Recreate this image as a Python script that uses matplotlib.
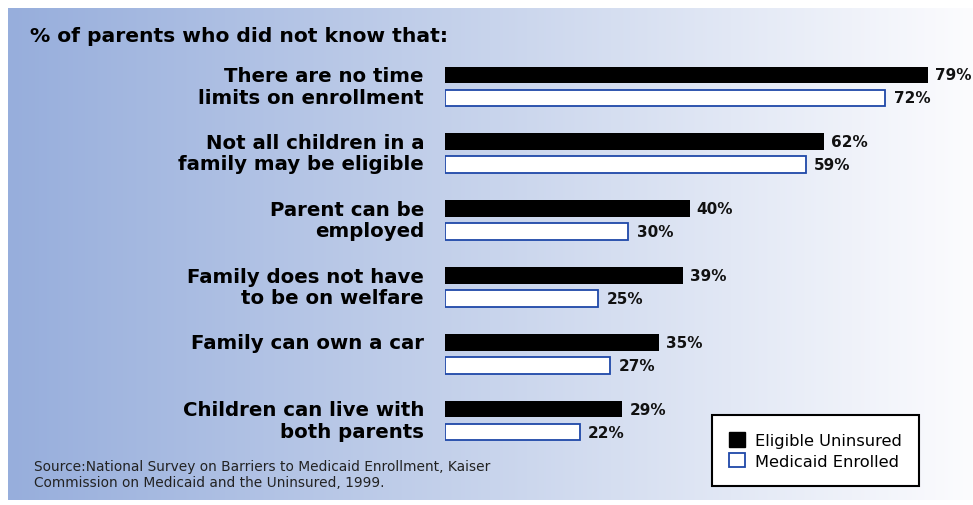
import numpy as np
import matplotlib.pyplot as plt
from matplotlib.patches import Patch

# data
labels = ["There are no time\nlimits on enrollment",
          "Not all children in a\nfamily may be eligible",
          "Parent can be\nemployed",
          "Family does not have\nto be on welfare",
          "Family can own a car",
          "Children can live with\nboth parents"]
eligible = [79, 62, 40, 39, 35, 29]
enrolled = [72, 59, 30, 25, 27, 22]

W, H = 973, 506
fig = plt.figure(figsize=(W / 100, H / 100), dpi=100)
fig.patch.set_facecolor("white")

# gradient backdrop
bg = fig.add_axes([8 / W, (H - 501) / H, (W - 8) / W, 492 / H])
c_left = np.array([151, 174, 220]) / 255
c_mid = np.array([200, 212, 236]) / 255
c_right = np.array([252, 252, 254]) / 255
t = np.linspace(0, 1, 400)
grad = np.where(t[:, None] < 0.5,
                c_left + (c_mid - c_left) * (t[:, None] / 0.5),
                c_mid + (c_right - c_mid) * ((t[:, None] - 0.5) / 0.5))
bg.imshow(grad[None, :, :], aspect="auto", extent=[0, 1, 0, 1])
bg.axis("off")

# bar axes: 0% at x=445 px, ~6.11 px per percent
px = 6.114
ax = fig.add_axes([445 / W, (H - 455) / H, 86 * px / W, 401 / H])
ax.patch.set_alpha(0)
y = np.arange(len(labels))
off, h = 0.172, 0.25
ax.barh(y - off, eligible, height=h, color="black", label="Eligible Uninsured")
ax.barh(y + off, enrolled, height=h, color="white", edgecolor="#1f48a8",
        linewidth=1.3, label="Medicaid Enrolled")
ax.set_xlim(0, 86)
ax.set_ylim(5.5, -0.5)
ax.axis("off")

for i in range(len(labels)):
    ax.text(eligible[i] + 1.15, y[i] - off, f"{eligible[i]}%", va="center",
            ha="left", fontsize=11, fontweight="bold", color="#111")
    ax.text(enrolled[i] + 1.4, y[i] + off, f"{enrolled[i]}%", va="center",
            ha="left", fontsize=11, fontweight="bold", color="#111")
    ly = y[i] if "\n" in labels[i] else y[i] - off
    ax.text(-21 / px, ly, labels[i], ha="right", va="center", fontsize=14.2,
            fontweight="bold", linespacing=1.15, clip_on=False, color="black")

fig.text(30 / W, 1 - 37 / H, "% of parents who did not know that:",
         fontsize=14.6, fontweight="bold", va="center", ha="left", color="black")

fig.text(34 / W, 1 - 475 / H,
         "Source:National Survey on Barriers to Medicaid Enrollment, Kaiser\n"
         "Commission on Medicaid and the Uninsured, 1999.",
         fontsize=9.9, va="center", ha="left", color="#222", linespacing=1.2)

handles = [Patch(facecolor="black", edgecolor="black"),
           Patch(facecolor="white", edgecolor="#1f48a8", linewidth=1.3)]
leg = fig.legend(handles, ["Eligible Uninsured", "Medicaid Enrolled"],
                 loc="upper left", bbox_to_anchor=(712 / W, 1 - 416 / H),
                 fontsize=11.7, frameon=True, fancybox=False,
                 handlelength=1.0, handleheight=1.0, handletextpad=0.6,
                 borderpad=1.05, labelspacing=0.3, borderaxespad=0)
leg.get_frame().set_edgecolor("black")
leg.get_frame().set_linewidth(1.5)
leg.get_frame().set_facecolor("white")
leg.get_frame().set_alpha(1)

fig.savefig("out.png", dpi=100)
